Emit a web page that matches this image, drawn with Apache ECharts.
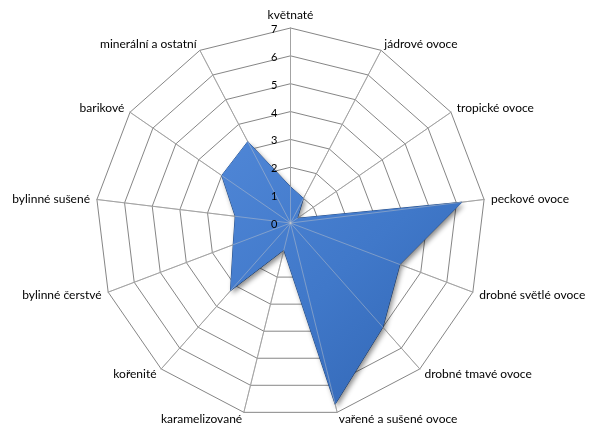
<!DOCTYPE html>
<html>
<head>
<meta charset="utf-8">
<script src="https://cdn.jsdelivr.net/npm/echarts@6/dist/echarts.min.js"></script>
<style>
  html, body { margin: 0; padding: 0; background: #ffffff; }
  #chart { width: 599px; height: 432px; }
</style>
</head>
<body>
<div id="chart"></div>
<script>
// Aroma profile categories, clockwise from the top
const categories = [
  'květnaté', 'jádrové ovoce', 'tropické ovoce', 'peckové ovoce',
  'drobné světlé ovoce', 'drobné tmavé ovoce', 'vařené a sušené ovoce',
  'karamelizované', 'kořenité', 'bylinné čerstvé', 'bylinné sušené',
  'barikové', 'minerální a ostatní'
];
// Intensity per category
const values = [1.3, 1, 0.3, 6.2, 4.2, 5, 6.7, 1, 3.25, 2.2, 2, 3, 3.3];
// Scale labels on the vertical axis
const tickLabels = [0, 1, 2, 3, 4, 5, 6, 7];

const CENTER = [290.5, 223];
const RADIUS = 195;
const FONT = 'Lato, "Open Sans", sans-serif';

// ECharts places radar indicators counter-clockwise; reorder so they run clockwise
const order = [0].concat(categories.map((_, i) => i).slice(1).reverse());
const maxValue = tickLabels[tickLabels.length - 1];
const indicator = order.map(i => ({ name: categories[i], min: tickLabels[0], max: maxValue }));
const seriesValues = order.map(i => values[i]);

const chart = echarts.init(document.getElementById('chart'), null, { renderer: 'canvas' });

chart.setOption({
  backgroundColor: '#ffffff',
  animation: false,
  radar: [
    {
      center: CENTER,
      radius: RADIUS,
      startAngle: 90,
      shape: 'polygon',
      splitNumber: tickLabels.length - 1,
      indicator: indicator,
      nameGap: 7,
      axisName: { color: '#000000', fontSize: 12, fontFamily: FONT },
      axisLine: { lineStyle: { color: '#868686', width: 1 } },
      axisTick: { show: false },
      axisLabel: { show: false },
      splitLine: { lineStyle: { color: '#868686', width: 1 } },
      splitArea: { show: false },
      z: 0
    },
    {
      // spokes drawn again on top of the filled area
      center: CENTER,
      radius: RADIUS,
      startAngle: 90,
      shape: 'polygon',
      splitNumber: tickLabels.length - 1,
      indicator: indicator,
      axisName: { show: false },
      axisLine: { lineStyle: { color: 'rgba(200,200,200,0.45)', width: 1 } },
      axisTick: { show: false },
      axisLabel: { show: false },
      splitLine: { show: false },
      splitArea: { show: false },
      z: 5
    }
  ],
  grid: {
    left: CENTER[0],
    top: CENTER[1] - RADIUS,
    height: RADIUS,
    width: 1,
    containLabel: false
  },
  xAxis: { type: 'value', show: false },
  yAxis: {
    type: 'value',
    min: tickLabels[0],
    max: maxValue,
    interval: tickLabels[1] - tickLabels[0],
    axisLine: { show: false },
    axisTick: { show: false },
    splitLine: { show: false },
    axisLabel: {
      margin: 13,
      color: '#000000',
      fontSize: 11,
      fontFamily: FONT,
      verticalAlign: 'top',
      padding: [-4, 0, 0, 0]
    },
    z: 6
  },
  series: [
    {
      type: 'radar',
      radarIndex: 0,
      symbol: 'none',
      z: 2,
      lineStyle: { color: '#24508f', width: 1 },
      areaStyle: {
        opacity: 1,
        color: new echarts.graphic.LinearGradient(0, 0, 1, 1, [
          { offset: 0, color: '#4f86d6' },
          { offset: 0.5, color: '#4078c9' },
          { offset: 1, color: '#3064b2' }
        ]),
        shadowColor: 'rgba(0,0,0,0.45)',
        shadowBlur: 5,
        shadowOffsetX: 2,
        shadowOffsetY: 3
      },
      data: [{ value: seriesValues, name: 'profil' }]
    }
  ]
});
</script>
</body>
</html>
